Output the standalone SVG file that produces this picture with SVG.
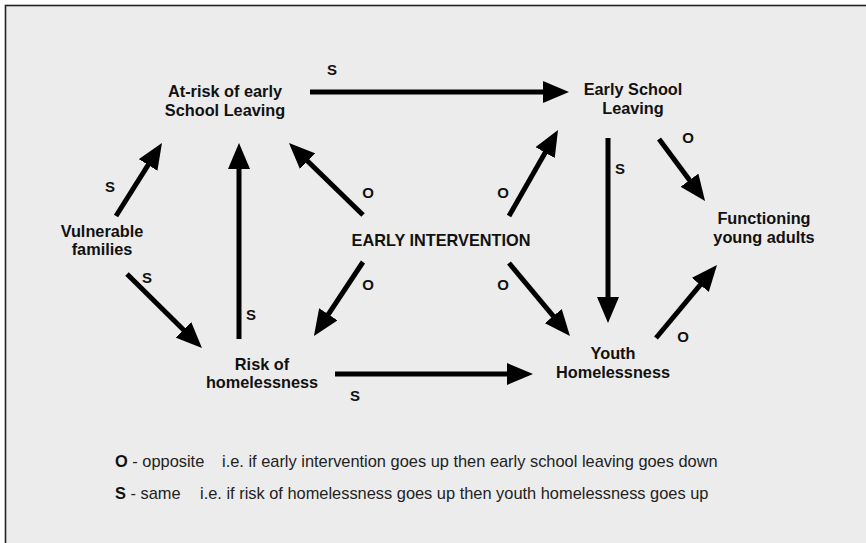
<svg xmlns="http://www.w3.org/2000/svg" width="866" height="543" viewBox="0 0 866 543">
<style>
.node{font-family:"Liberation Sans",Arial,Helvetica,sans-serif;font-weight:bold;font-size:16.3px;fill:#111;text-anchor:middle}
.lbl{font-family:"Liberation Sans",Arial,Helvetica,sans-serif;font-weight:bold;font-size:15px;fill:#111;text-anchor:middle}
.leg{font-family:"Liberation Sans",Arial,Helvetica,sans-serif;font-size:16.4px;fill:#222}
.leg .b{font-weight:bold;fill:#111}
.edge{stroke:#000;stroke-width:5;fill:none;marker-end:url(#ah)}
</style>
<defs>
<marker id="ah" viewBox="0 0 26 22" refX="12" refY="11" markerWidth="26" markerHeight="22" markerUnits="userSpaceOnUse" orient="auto">
<path d="M0,0 L26,11 L0,22 z" fill="#000"/>
</marker>
</defs>
<rect x="0" y="0" width="866" height="543" fill="#fff"/>
<rect x="5.5" y="5.5" width="870" height="550" fill="#ececec" stroke="#222" stroke-width="1.6"/>

<g id="connectors">
<line class="edge" x1="310" y1="92" x2="555" y2="92"/>
<line class="edge" x1="608" y1="138" x2="608" y2="309"/>
<line class="edge" x1="659" y1="139" x2="696.7" y2="189.8"/>
<line class="edge" x1="509" y1="216" x2="551.1" y2="142.2"/>
<line class="edge" x1="116" y1="216" x2="154.5" y2="154.8"/>
<line class="edge" x1="127" y1="274" x2="192" y2="338.2"/>
<line class="edge" x1="239" y1="339" x2="239" y2="157"/>
<line class="edge" x1="363" y1="215" x2="299" y2="152.8"/>
<line class="edge" x1="363" y1="262" x2="321.7" y2="324.3"/>
<line class="edge" x1="335" y1="374" x2="519" y2="374"/>
<line class="edge" x1="509" y1="263" x2="561" y2="325.3"/>
<line class="edge" x1="656" y1="338" x2="708" y2="275.7"/>
<text class="lbl" x="332" y="75">S</text>
<text class="lbl" x="620" y="174">S</text>
<text class="lbl" x="688" y="143">O</text>
<text class="lbl" x="503" y="198">O</text>
<text class="lbl" x="110" y="192">S</text>
<text class="lbl" x="147" y="283">S</text>
<text class="lbl" x="251" y="320">S</text>
<text class="lbl" x="368" y="198">O</text>
<text class="lbl" x="368" y="290">O</text>
<text class="lbl" x="355" y="401">S</text>
<text class="lbl" x="503" y="290">O</text>
<text class="lbl" x="683" y="342">O</text>
</g>

<g id="at-risk">
<text class="node" x="225" y="97">At-risk of early</text>
<text class="node" x="225" y="116">School Leaving</text>
</g>
<g id="early-school-leaving">
<text class="node" x="633" y="95">Early School</text>
<text class="node" x="633" y="114">Leaving</text>
</g>
<g id="functioning">
<text class="node" x="764" y="224">Functioning</text>
<text class="node" x="764" y="243">young adults</text>
</g>
<g id="vulnerable">
<text class="node" x="102" y="237">Vulnerable</text>
<text class="node" x="102" y="255">families</text>
</g>
<g id="early-intervention">
<text class="node" x="441" y="246">EARLY INTERVENTION</text>
</g>
<g id="risk-homelessness">
<text class="node" x="262" y="370">Risk of</text>
<text class="node" x="262" y="388">homelessness</text>
</g>
<g id="youth-homelessness">
<text class="node" x="613" y="359">Youth</text>
<text class="node" x="613" y="378">Homelessness</text>
</g>

<g id="legend">
<text class="leg" x="115" y="467"><tspan class="b">O</tspan> - opposite</text>
<text class="leg" x="222" y="467">i.e. if early intervention goes up then early school leaving goes down</text>
<text class="leg" x="115" y="499"><tspan class="b">S</tspan> - same</text>
<text class="leg" x="200" y="499">i.e. if risk of homelessness goes up then youth homelessness goes up</text>
</g>
</svg>
